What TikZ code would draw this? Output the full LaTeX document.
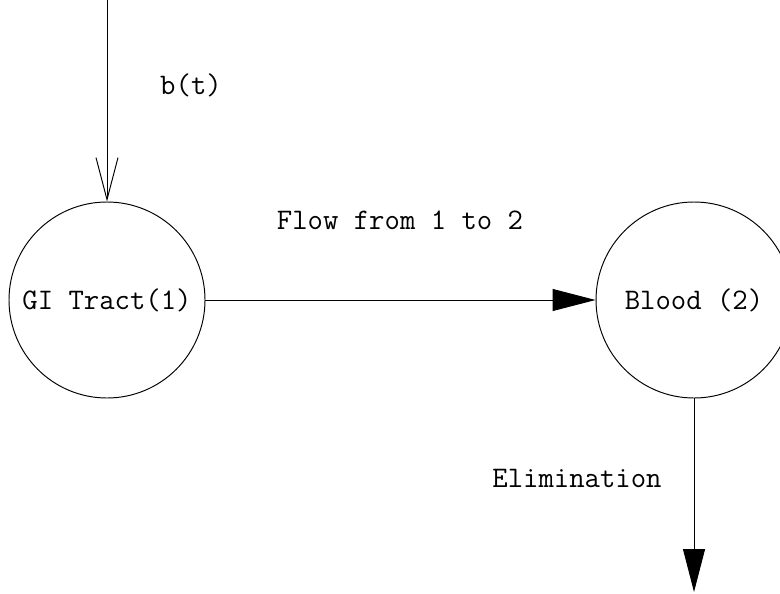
\documentclass[tikz,border=0pt]{standalone}
\usepackage{tikz}
\usetikzlibrary{arrows.meta}
\usetikzlibrary{positioning}

\begin{document}
\begin{tikzpicture}[line width=0.55pt]
  \tikzset{compartment/.style = {shape=circle,draw,minimum size=3.92cm,inner sep=1pt,font=\ttfamily\fontsize{17}{20}\selectfont}}
  \tikzset{lbl/.style = {anchor=base,font=\ttfamily\fontsize{17}{20}\selectfont}}
  \tikzset{%
  tipA/.tip={Triangle[length=0.86cm,width=0.44cm]},
  tipB/.tip={Straight Barb[length=0.84cm,width=0.44cm,line width=0.55pt]},
}
  \useasboundingbox (0,0) rectangle (15.6,11.86);

	\node[compartment] (GI) at (2.14,5.86) {GI Tract(1)};
	\node[compartment] (Blood) at (13.88,5.86) {Blood (2)};
	\coordinate (In) at (2.14,11.86);
	\coordinate (Out) at (13.88,0.02);

	\node[lbl] (bt) at (3.82,9.96) {b(t)};
	\node[lbl] (flow) at (8.00,7.26) {Flow from 1 to 2};
	\node[lbl] (elim) at (11.54,2.12) {Elimination};

    \path[-tipB](In) edge (GI);

    \foreach \from/\to in {GI/Blood, Blood/Out}
    \path[-tipA](\from) edge (\to);

\end{tikzpicture}
\end{document}
